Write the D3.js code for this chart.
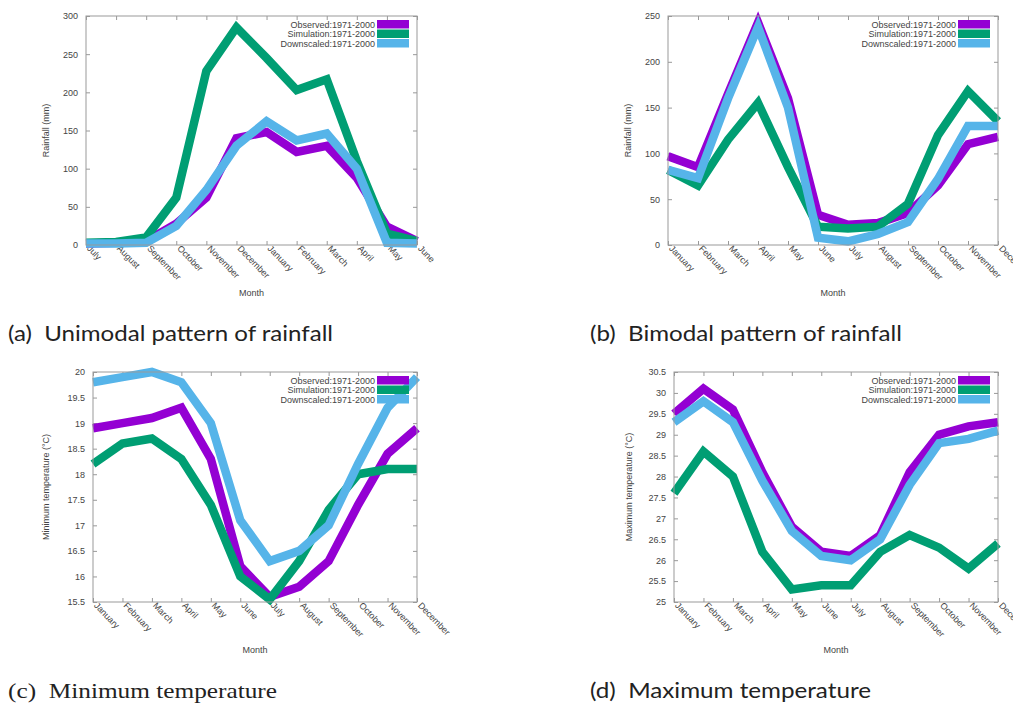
<!DOCTYPE html>
<html>
<head>
<meta charset="utf-8">
<script src="https://cdn.jsdelivr.net/npm/d3@7"></script>
<style>
  body { margin: 0; background: #fff; }
  svg { display: block; }
</style>
</head>
<body>
<svg id="chart" width="1013" height="705"></svg>
<script>
// month order per panel
const monthsJulJun = ['July', 'August', 'September', 'October', 'November', 'December',
  'January', 'February', 'March', 'April', 'May', 'June'];
const monthsJanDec = ['January', 'February', 'March', 'April', 'May', 'June',
  'July', 'August', 'September', 'October', 'November', 'December'];

const seriesNames = ['Observed:1971-2000', 'Simulation:1971-2000', 'Downscaled:1971-2000'];

// (a) unimodal rainfall (mm)
const rainUniObserved = [2, 3, 5, 28, 62, 140, 148, 122, 130, 88, 24, 5];
const rainUniSimulation = [3, 4, 10, 62, 228, 285, 245, 203, 217, 110, 15, 5];
const rainUniDownscaled = [2, 2, 3, 25, 72, 130, 162, 137, 146, 100, 3, 2];

// (b) bimodal rainfall (mm)
const rainBiObserved = [97, 85, 165, 243, 160, 33, 22, 24, 35, 65, 110, 118];
const rainBiSimulation = [82, 65, 115, 155, 85, 20, 18, 20, 45, 120, 168, 135];
const rainBiDownscaled = [82, 73, 160, 238, 150, 8, 4, 12, 25, 72, 130, 130];

// (c) minimum temperature (°C)
const tminObserved = [18.9, 19.0, 19.1, 19.3, 18.3, 16.2, 15.6, 15.8, 16.3, 17.4, 18.4, 18.9];
const tminSimulation = [18.2, 18.6, 18.7, 18.3, 17.4, 16.0, 15.55, 16.3, 17.3, 18.0, 18.1, 18.1];
const tminDownscaled = [19.8, 19.9, 20.0, 19.8, 19.0, 17.1, 16.3, 16.5, 17.0, 18.2, 19.3, 19.9];

// (d) maximum temperature (°C)
const tmaxObserved = [29.5, 30.1, 29.6, 28.1, 26.8, 26.2, 26.1, 26.6, 28.1, 29.0, 29.2, 29.3];
const tmaxSimulation = [27.6, 28.6, 28.0, 26.2, 25.3, 25.4, 25.4, 26.2, 26.6, 26.3, 25.8, 26.4];
const tmaxDownscaled = [29.3, 29.8, 29.3, 27.9, 26.7, 26.1, 26.0, 26.5, 27.8, 28.8, 28.9, 29.1];

// y tick values
const rainUniTicks = [0, 50, 100, 150, 200, 250, 300];
const rainBiTicks = [0, 50, 100, 150, 200, 250];
const tminTicks = [15.5, 16, 16.5, 17, 17.5, 18, 18.5, 19, 19.5, 20];
const tmaxTicks = [25, 25.5, 26, 26.5, 27, 27.5, 28, 28.5, 29, 29.5, 30, 30.5];

const captions = ['(a)  Unimodal pattern of rainfall', '(b)  Bimodal pattern of rainfall',
  '(c)  Minimum temperature', '(d)  Maximum temperature'];

const colors = ['#9400d3', '#009e73', '#56b4e9'];
const smallFont = '9px "Liberation Sans", Arial, sans-serif';

const svg = d3.select('#chart');

const panels = [
  { months: monthsJulJun, series: [rainUniObserved, rainUniSimulation, rainUniDownscaled],
    ticks: rainUniTicks, yTitle: 'Rainfall (mm)',
    frame: { l: 86, r: 417, t: 16, b: 245 }, yTitleX: 49 },
  { months: monthsJanDec, series: [rainBiObserved, rainBiSimulation, rainBiDownscaled],
    ticks: rainBiTicks, yTitle: 'Rainfall (mm)',
    frame: { l: 668, r: 998, t: 16, b: 245 }, yTitleX: 631 },
  { months: monthsJanDec, series: [tminObserved, tminSimulation, tminDownscaled],
    ticks: tminTicks, yTitle: 'Minimum temperature (°C)',
    frame: { l: 93, r: 417, t: 372, b: 602 }, yTitleX: 49 },
  { months: monthsJanDec, series: [tmaxObserved, tmaxSimulation, tmaxDownscaled],
    ticks: tmaxTicks, yTitle: 'Maximum temperature (°C)',
    frame: { l: 674, r: 998, t: 372, b: 602 }, yTitleX: 632 }
];

panels.forEach((p) => {
  const f = p.frame;
  const g = svg.append('g');

  const x = d3.scalePoint().domain(p.months).range([f.l, f.r]);
  const y = d3.scaleLinear()
    .domain([p.ticks[0], p.ticks[p.ticks.length - 1]])
    .range([f.b, f.t]);

  // y axis, ticks inside and mirrored on the right
  const yAxis = g.append('g')
    .attr('transform', `translate(${f.l},0)`)
    .call(d3.axisLeft(y).tickValues(p.ticks).tickSize(-4).tickPadding(8).tickFormat(d3.format('~g')));
  g.append('g')
    .attr('transform', `translate(${f.r},0)`)
    .call(d3.axisRight(y).tickValues(p.ticks).tickSize(-4).tickFormat(''));

  // x axis
  const xAxis = g.append('g')
    .attr('transform', `translate(0,${f.b})`)
    .call(d3.axisBottom(x).tickSize(-4).tickPadding(4));
  g.append('g')
    .attr('transform', `translate(0,${f.t})`)
    .call(d3.axisTop(x).tickSize(-4).tickFormat(''));

  g.selectAll('.domain').remove();
  g.selectAll('.tick line').attr('stroke', '#999');

  yAxis.selectAll('text')
    .attr('fill', '#444')
    .style('font', smallFont);

  xAxis.selectAll('text')
    .attr('fill', '#444')
    .style('font', smallFont)
    .attr('text-anchor', 'start')
    .attr('dy', '0')
    .attr('y', 0)
    .attr('transform', 'translate(0,4) rotate(46)');

  // lines
  const line = d3.line()
    .x((d, i) => x(p.months[i]))
    .y((d) => y(d));

  p.series.forEach((s, i) => {
    g.append('path')
      .datum(s)
      .attr('d', line)
      .attr('fill', 'none')
      .attr('stroke', colors[i])
      .attr('stroke-width', 8.5)
      .attr('stroke-linejoin', 'miter');
  });

  // frame
  g.append('rect')
    .attr('x', f.l).attr('y', f.t)
    .attr('width', f.r - f.l).attr('height', f.b - f.t)
    .attr('fill', 'none').attr('stroke', '#999').attr('stroke-width', 1);

  // legend
  seriesNames.forEach((name, i) => {
    const ly = f.t + 8 + i * 9.5;
    g.append('text')
      .attr('x', f.r - 42)
      .attr('y', ly + 3.5)
      .attr('text-anchor', 'end')
      .attr('fill', '#444')
      .style('font', smallFont)
      .text(name);
    g.append('rect')
      .attr('x', f.r - 40).attr('y', ly - 4)
      .attr('width', 32).attr('height', 8.5)
      .attr('fill', colors[i]);
  });

  // axis titles
  g.append('text')
    .attr('transform', `translate(${p.yTitleX},${(f.t + f.b) / 2}) rotate(-90)`)
    .attr('text-anchor', 'middle')
    .attr('fill', '#444')
    .style('font', smallFont)
    .text(p.yTitle);
  g.append('text')
    .attr('x', (f.l + f.r) / 2)
    .attr('y', f.b + 51)
    .attr('text-anchor', 'middle')
    .attr('fill', '#444')
    .style('font', smallFont)
    .text('Month');
});

// captions under each panel
const capPos = [[8, 341, 325], [590, 341, 312], [8, 698, 269], [590, 698, 281]];
captions.forEach((c, i) => {
  svg.append('text')
    .attr('x', capPos[i][0])
    .attr('y', capPos[i][1])
    .attr('fill', '#222')
    .attr('textLength', capPos[i][2])
    .attr('lengthAdjust', 'spacingAndGlyphs')
    .style('font', i === 2 ? '21px "Liberation Serif", serif' : '21px Lato, "Open Sans", sans-serif')
    .style('white-space', 'pre')
    .text(c);
});
</script>
</body>
</html>
